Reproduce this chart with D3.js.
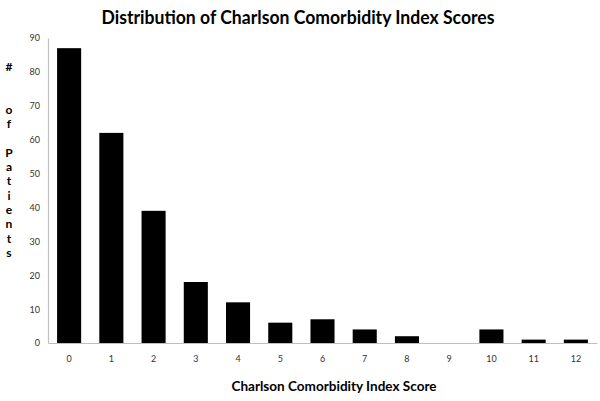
<!DOCTYPE html>
<html lang="en">
<head>
<script src="https://d3js.org/d3.v7.min.js"></script>
<style>
  body { margin: 0; background: #fff; }
  text { font-family: Lato, "Open Sans", sans-serif; }
</style>
</head>
<body>
<div id="chart"></div>
<script>
// data
var scores = ["0","1","2","3","4","5","6","7","8","9","10","11","12"];
var patients = [87, 62, 39, 18, 12, 6, 7, 4, 2, 0, 4, 1, 1];
var yTicks = [0, 10, 20, 30, 40, 50, 60, 70, 80, 90];

var W = 600, H = 401;
var margin = {top: 38, right: 3, bottom: 58, left: 48},
    width = W - margin.left - margin.right,
    height = H - margin.top - margin.bottom;

var svg = d3.select("#chart").append("svg")
  .attr("width", W).attr("height", H);

svg.append("text")
  .attr("x", 298).attr("y", 24)
  .attr("text-anchor", "middle")
  .attr("textLength", 393).attr("lengthAdjust", "spacingAndGlyphs")
  .style("font-size", "18px").style("font-weight", "bold")
  .text("Distribution of Charlson Comorbidity Index Scores");

var g = svg.append("g")
  .attr("transform", "translate(" + margin.left + "," + margin.top + ")");

var x = d3.scaleBand().domain(scores).range([0, width]).paddingInner(0.43).paddingOuter(0.215);
var y = d3.scaleLinear().domain([0, 90]).range([height, 0]);

// bars
g.selectAll("rect.bar")
  .data(patients)
  .enter().append("rect")
  .attr("x", function(d, i){ return x(scores[i]); })
  .attr("y", function(d){ return y(d); })
  .attr("width", x.bandwidth())
  .attr("height", function(d){ return height - y(d); })
  .attr("fill", "#000");

// y axis
var yAxis = g.append("g")
  .call(d3.axisLeft(y).tickValues(yTicks).tickSize(0).tickPadding(8));
yAxis.select(".domain").attr("stroke", "#bfbfbf").attr("stroke-width", 1.2);
yAxis.selectAll("text").style("font-size", "9px").attr("fill", "#333");

// x axis
var xAxis = g.append("g")
  .attr("transform", "translate(0," + height + ")")
  .call(d3.axisBottom(x).tickSize(0).tickPadding(13));
xAxis.select(".domain").attr("stroke", "#bfbfbf").attr("stroke-width", 1.2);
xAxis.selectAll("text").style("font-size", "9px").attr("fill", "#333");

// axis titles
svg.append("text")
  .attr("x", 334).attr("y", 391)
  .attr("text-anchor", "middle")
  .attr("textLength", 205).attr("lengthAdjust", "spacingAndGlyphs")
  .style("font-size", "13px").style("font-weight", "bold")
  .text("Charlson Comorbidity Index Score");

var yLabel = "#  of Patients";
svg.append("g").selectAll("text")
  .data(yLabel.split(""))
  .enter().append("text")
  .attr("x", 9)
  .attr("y", function(d, i){ return 71 + i * 14.3; })
  .attr("text-anchor", "middle")
  .style("font-size", "12px").style("font-weight", "bold")
  .text(function(d){ return d; });
</script>
</body>
</html>
